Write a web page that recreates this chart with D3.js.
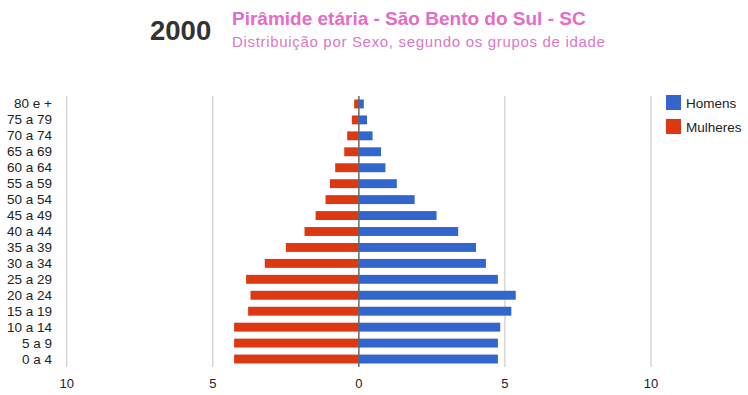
<!DOCTYPE html>
<html>
<head>
<meta charset="utf-8">
<script src="https://cdn.jsdelivr.net/npm/d3@7"></script>
<style>
  body { margin: 0; background: #fff; }
  text { font-family: "Liberation Sans", Arial, sans-serif; }
</style>
</head>
<body>
<svg id="chart" width="748" height="395"></svg>
<script>
const faixas = ['80 e +','75 a 79','70 a 74','65 a 69','60 a 64','55 a 59','50 a 54','45 a 49',
  '40 a 44','35 a 39','30 a 34','25 a 29','20 a 24','15 a 19','10 a 14','5 a 9','0 a 4'];
const homens = [0.17,0.28,0.47,0.76,0.91,1.30,1.91,2.66,3.40,4.01,4.35,4.76,5.37,5.22,4.84,4.76,4.76];
const mulheres = [0.16,0.24,0.40,0.50,0.81,0.99,1.14,1.48,1.86,2.50,3.22,3.86,3.71,3.79,4.27,4.27,4.27];
const ticks = [-10,-5,0,5,10];
const series = ['Homens','Mulheres'];
const cores = ['#3366cc','#dc3912'];

const svg = d3.select('#chart');

// titulo
svg.append('text').attr('x',150).attr('y',40)
  .attr('font-size',27.5).attr('font-weight','bold').attr('fill','#333').text('2000');
svg.append('text').attr('x',232).attr('y',25)
  .attr('font-size',19).attr('font-weight','bold').attr('fill','#e36cc8')
  .text('Pirâmide etária - São Bento do Sul - SC');
svg.append('text').attr('x',232).attr('y',47)
  .attr('font-size',15).attr('letter-spacing',0.68).attr('fill','#d879c8')
  .text('Distribuição por Sexo, segundo os grupos de idade');

const x = d3.scaleLinear().domain([-10,10]).range([66.7,651]);
const y = d3.scaleBand().domain(faixas).range([96,367]).paddingInner(0.44).paddingOuter(0.22);

// grade
svg.append('g').selectAll('line').data(ticks.filter(t => t !== 0)).enter().append('line')
  .attr('x1', d => x(d)).attr('x2', d => x(d))
  .attr('y1',96).attr('y2',367)
  .attr('stroke','#cccccc').attr('stroke-width',1.2);

svg.append('g').selectAll('text').data(ticks).enter().append('text')
  .attr('x', d => x(d)).attr('y',388)
  .attr('text-anchor','middle').attr('font-size',13).attr('fill','#222')
  .text(d => Math.abs(d));

// barras
svg.append('g').selectAll('rect').data(faixas).enter().append('rect')
  .attr('x', (d,i) => x(-mulheres[i]))
  .attr('width', (d,i) => x(0) - x(-mulheres[i]))
  .attr('y', d => y(d)).attr('height', y.bandwidth())
  .attr('fill', cores[1]);

svg.append('g').selectAll('rect').data(faixas).enter().append('rect')
  .attr('x', x(0))
  .attr('width', (d,i) => x(homens[i]) - x(0))
  .attr('y', d => y(d)).attr('height', y.bandwidth())
  .attr('fill', cores[0]);

svg.append('line').attr('x1',x(0)).attr('x2',x(0)).attr('y1',96).attr('y2',367)
  .attr('stroke','#666').attr('stroke-width',1.5);

// rotulos
svg.append('g').selectAll('text').data(faixas).enter().append('text')
  .attr('x',52).attr('y', d => y(d) + y.bandwidth()/2 + 4.5)
  .attr('text-anchor','end').attr('font-size',13.5).attr('fill','#222')
  .text(d => d);

// legenda
const leg = svg.append('g').selectAll('g').data(series).enter().append('g')
  .attr('transform', (d,i) => `translate(666,${95 + i*24})`);
leg.append('rect').attr('width',15).attr('height',15).attr('fill', (d,i) => cores[i]);
leg.append('text').attr('x',20).attr('y',12.5).attr('font-size',13.5).attr('fill','#222').text(d => d);
</script>
</body>
</html>
